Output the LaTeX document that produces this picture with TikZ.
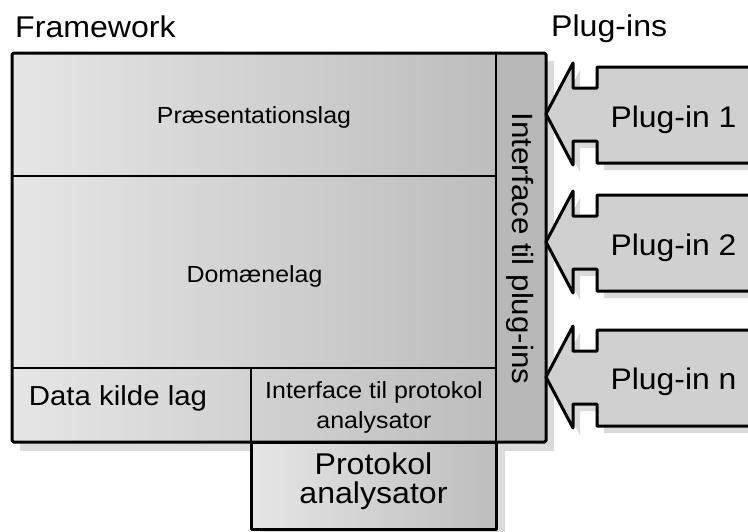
\documentclass[tikz,border=0pt]{standalone}
\usepackage{fontspec}
\setmainfont[FakeStretch=1.07]{Liberation Sans}
\definecolor{shad}{HTML}{DADADA}
\definecolor{gl}{HTML}{E6E6E6}
\definecolor{gr}{HTML}{BDBDBD}
\definecolor{colgray}{HTML}{B8B8B8}
\definecolor{plugfill}{HTML}{D0D0D0}
\newcommand\plugpath[1]{(546,#1) -- (573,{#1-51}) -- (573,{#1-26}) -- (597,{#1-26}) -- (597,{#1-47}) -- (760,{#1-47}) -- (760,{#1+49}) -- (597,{#1+49}) -- (597,{#1+27}) -- (573,{#1+27}) -- (573,{#1+51}) -- cycle}
\begin{document}
\begin{tikzpicture}[x=1pt,y=-1pt,
  thickline/.style={line width=3pt, line join=round},
  thinline/.style={line width=1.5pt},
  shadowfill/.style={fill=shad},
  lbl/.style={font=\fontsize{23.3}{30}\selectfont, align=center, inner sep=0pt, anchor=base},
  biglbl/.style={font=\fontsize{29.8}{28}\selectfont, align=center, inner sep=0pt, anchor=base},
  head/.style={font=\fontsize{30}{30}\selectfont, inner sep=0pt, anchor=base west}]
\clip (0,0) rectangle (748,531);
\fill[white] (0,0) rectangle (748,531);
% shadows
\fill[shadowfill] (20,61) rectangle (554,451);
\fill[shadowfill] (260,451) rectangle (505,540);
\foreach \c in {114,242,377} {
  \fill[shadowfill, shift={(7,7)}] \plugpath{\c};
}
% fills
\fill[left color=gl, right color=gr] (12,53) rectangle (496,442);
\fill[colgray] (496,53) rectangle (546,442);
\fill[left color=gl, right color=gr] (251,442) rectangle (496,529);
% inner lines
\draw[thinline] (12,176) -- (496,176);
\draw[thinline] (12,368) -- (496,368);
\draw[thinline] (496,53) -- (496,442);
\draw[thinline] (251,368) -- (251,442);
% outlines
\draw[thickline, rounded corners=1.5pt] (12,53) rectangle (546,442);
\draw[thickline] (251,442) rectangle (496,529);
% plug-ins
\foreach \c in {114,242,377} {
  \filldraw[fill=plugfill, thickline] \plugpath{\c};
}
% texts
\node[head] (fw) at (15,37) {Framework};
\node[head] (pi) at (551,36) {Plug-ins};
\node[lbl] (pres) at (254,123) {Præsentationslag};
\node[lbl] (dom) at (254.5,282) {Domænelag};
\node[lbl, font=\fontsize{27.5}{30}\selectfont] (data) at (118,405) {Data kilde lag};
\node[lbl] (ifp) at (374,428) {Interface til protokol\\analysator};
\node[biglbl, font=\fontsize{30}{28.3}\selectfont] (proto) at (373.5,503) {Protokol\\analysator};
\node[head, font=\fontsize{29.3}{30}\selectfont, anchor=base, rotate=-90] (ifpl) at (512,248.5) {Interface til plug-ins};
\node[biglbl] (p1) at (673.5,127) {Plug-in 1};
\node[biglbl] (p2) at (673.5,255) {Plug-in 2};
\node[biglbl] (pn) at (673.5,389) {Plug-in n};
\end{tikzpicture}
\end{document}
